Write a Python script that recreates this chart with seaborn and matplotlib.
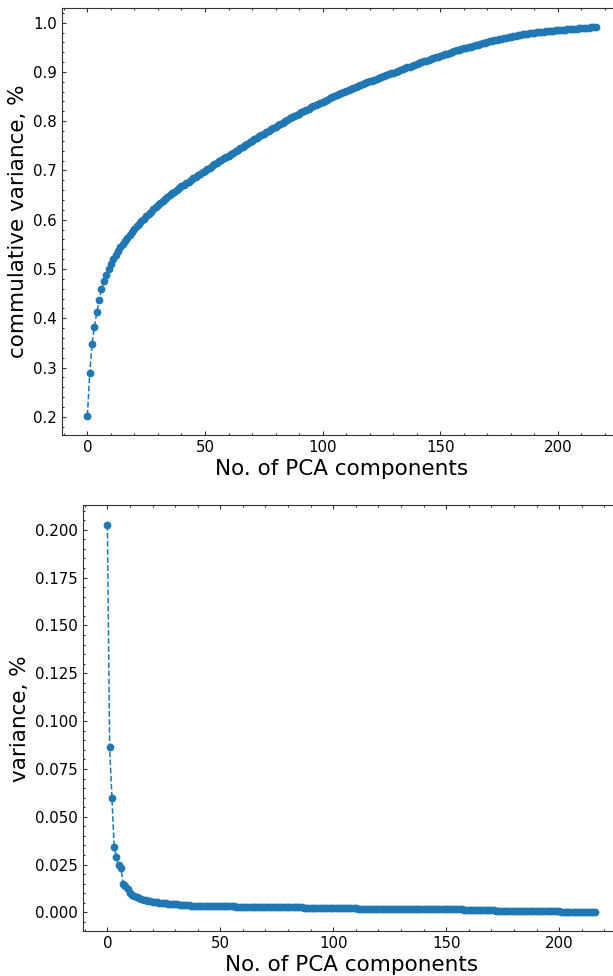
import numpy as np
import pandas as pd
import seaborn as sns
import matplotlib

matplotlib.use("agg")
import matplotlib.pyplot as plt
from matplotlib.ticker import MultipleLocator, FormatStrFormatter

# explained variance ratio per PCA component
variance = [
    0.2026, 0.0863, 0.0596, 0.0342, 0.0292, 0.0246, 0.0232, 0.0150, 0.0136, 0.0124,
    0.0100, 0.0092, 0.0085, 0.0079, 0.0074, 0.0070, 0.0066, 0.0063, 0.0061, 0.0059,
    0.0057, 0.0055, 0.0053, 0.0051, 0.0050, 0.0049, 0.0047, 0.0046, 0.0045, 0.0044,
    0.0043, 0.0042, 0.0041, 0.0040, 0.0039, 0.0038, 0.0037, 0.0036, 0.0036, 0.0035,
    0.0035, 0.0034, 0.0034, 0.0033, 0.0033, 0.0032, 0.0032, 0.0032, 0.0031, 0.0031,
    0.0031, 0.0031, 0.0031, 0.0031, 0.0031, 0.0031, 0.0031, 0.0030, 0.0030, 0.0030,
    0.0030, 0.0030, 0.0030, 0.0030, 0.0030, 0.0030, 0.0030, 0.0030, 0.0030, 0.0030,
    0.0030, 0.0030, 0.0030, 0.0028, 0.0028, 0.0028, 0.0028, 0.0028, 0.0028, 0.0028,
    0.0028, 0.0028, 0.0028, 0.0028, 0.0028, 0.0028, 0.0028, 0.0025, 0.0025, 0.0025,
    0.0025, 0.0025, 0.0025, 0.0025, 0.0025, 0.0025, 0.0025, 0.0025, 0.0025, 0.0021,
    0.0021, 0.0021, 0.0021, 0.0021, 0.0021, 0.0021, 0.0021, 0.0021, 0.0021, 0.0021,
    0.0021, 0.0020, 0.0020, 0.0020, 0.0020, 0.0020, 0.0020, 0.0020, 0.0020, 0.0020,
    0.0020, 0.0018, 0.0018, 0.0018, 0.0018, 0.0018, 0.0018, 0.0018, 0.0018, 0.0018,
    0.0018, 0.0018, 0.0018, 0.0018, 0.0017, 0.0017, 0.0017, 0.0017, 0.0017, 0.0017,
    0.0017, 0.0017, 0.0017, 0.0017, 0.0017, 0.0017, 0.0016, 0.0016, 0.0016, 0.0016,
    0.0016, 0.0016, 0.0016, 0.0016, 0.0016, 0.0016, 0.0016, 0.0016, 0.0013, 0.0013,
    0.0013, 0.0013, 0.0013, 0.0013, 0.0013, 0.0013, 0.0013, 0.0013, 0.0013, 0.0013,
    0.0013, 0.0013, 0.0010, 0.0010, 0.0010, 0.0010, 0.0010, 0.0010, 0.0010, 0.0010,
    0.0010, 0.0010, 0.0010, 0.0010, 0.0010, 0.0010, 0.0007, 0.0007, 0.0007, 0.0007,
    0.0007, 0.0007, 0.0007, 0.0005, 0.0005, 0.0005, 0.0005, 0.0005, 0.0005, 0.0005,
    0.0005, 0.0004, 0.0004, 0.0004, 0.0004, 0.0004, 0.0004, 0.0004, 0.0004, 0.0004,
    0.0004, 0.0004, 0.0004, 0.0004, 0.0004, 0.0004, 0.0004,
]

# cumulative explained variance
cum_variance = [
    0.2026, 0.2889, 0.3485, 0.3827, 0.4119, 0.4365, 0.4597, 0.4747, 0.4883, 0.5007,
    0.5107, 0.5199, 0.5284, 0.5363, 0.5437, 0.5507, 0.5573, 0.5636, 0.5697, 0.5756,
    0.5813, 0.5868, 0.5921, 0.5972, 0.6022, 0.6071, 0.6118, 0.6164, 0.6209, 0.6253,
    0.6296, 0.6338, 0.6379, 0.6419, 0.6458, 0.6496, 0.6533, 0.6569, 0.6605, 0.6640,
    0.6675, 0.6709, 0.6743, 0.6776, 0.6809, 0.6841, 0.6873, 0.6905, 0.6936, 0.6967,
    0.6998, 0.7029, 0.7060, 0.7091, 0.7122, 0.7153, 0.7184, 0.7214, 0.7244, 0.7274,
    0.7304, 0.7334, 0.7364, 0.7394, 0.7424, 0.7454, 0.7484, 0.7514, 0.7544, 0.7574,
    0.7604, 0.7634, 0.7664, 0.7692, 0.7720, 0.7748, 0.7776, 0.7804, 0.7832, 0.7860,
    0.7888, 0.7916, 0.7944, 0.7972, 0.8000, 0.8028, 0.8056, 0.8081, 0.8106, 0.8131,
    0.8156, 0.8181, 0.8206, 0.8231, 0.8256, 0.8281, 0.8306, 0.8331, 0.8356, 0.8377,
    0.8398, 0.8419, 0.8440, 0.8461, 0.8482, 0.8503, 0.8524, 0.8545, 0.8566, 0.8587,
    0.8608, 0.8628, 0.8648, 0.8668, 0.8688, 0.8708, 0.8728, 0.8748, 0.8768, 0.8788,
    0.8808, 0.8826, 0.8844, 0.8862, 0.8880, 0.8898, 0.8916, 0.8934, 0.8952, 0.8970,
    0.8988, 0.9006, 0.9024, 0.9042, 0.9059, 0.9076, 0.9093, 0.9110, 0.9127, 0.9144,
    0.9161, 0.9178, 0.9195, 0.9212, 0.9229, 0.9246, 0.9262, 0.9278, 0.9294, 0.9310,
    0.9326, 0.9342, 0.9358, 0.9374, 0.9390, 0.9406, 0.9422, 0.9438, 0.9451, 0.9464,
    0.9477, 0.9490, 0.9503, 0.9516, 0.9529, 0.9542, 0.9555, 0.9568, 0.9581, 0.9594,
    0.9607, 0.9620, 0.9630, 0.9640, 0.9650, 0.9660, 0.9670, 0.9680, 0.9690, 0.9700,
    0.9710, 0.9720, 0.9730, 0.9740, 0.9750, 0.9760, 0.9767, 0.9774, 0.9781, 0.9788,
    0.9795, 0.9802, 0.9809, 0.9814, 0.9819, 0.9824, 0.9829, 0.9834, 0.9839, 0.9844,
    0.9849, 0.9853, 0.9857, 0.9861, 0.9865, 0.9869, 0.9873, 0.9877, 0.9881, 0.9885,
    0.9889, 0.9893, 0.9897, 0.9901, 0.9905, 0.9909, 0.9913,
]

components = np.arange(len(variance))

x_label = "No. of PCA components"
y_label_top = "commulative variance, %"
y_label_bottom = "variance, %"

df = pd.DataFrame(
    {"component": components, "variance": variance, "cum_variance": cum_variance}
)

sns.set_style("ticks")
plt.rcParams["font.family"] = ["DejaVu Sans"]
plt.rcParams["text.color"] = "black"
plt.rcParams["axes.labelcolor"] = "black"
plt.rcParams["xtick.color"] = "black"
plt.rcParams["ytick.color"] = "black"

fig = plt.figure(figsize=(6.13, 9.76), dpi=100)
# the right edge of both axes runs past the figure, as in the cropped original
ax_top = fig.add_axes([0.1011, 0.5543, 0.9119, 0.4380])
ax_bot = fig.add_axes([0.1354, 0.0461, 0.8754, 0.4360])

line_kw = dict(
    color="#1f77b4", marker="o", linestyle="--", linewidth=1.1,
    markersize=5.6, markeredgewidth=0,
)

sns.lineplot(data=df, x="component", y="cum_variance", ax=ax_top, **line_kw)
sns.lineplot(data=df, x="component", y="variance", ax=ax_bot, **line_kw)

ax_top.set_ylabel(y_label_top, fontsize=15.5)
ax_bot.set_ylabel(y_label_bottom, fontsize=15.5)

for ax in (ax_top, ax_bot):
    ax.set_xlabel(x_label, fontsize=15.5, labelpad=3)
    ax.xaxis.set_major_locator(MultipleLocator(50))
    ax.xaxis.set_minor_locator(MultipleLocator(10))
    ax.tick_params(which="both", direction="in", top=True, right=True,
                   labelsize=10.8, width=0.8, color="#333333",
                   labelcolor="black")
    ax.tick_params(which="major", length=3)
    ax.tick_params(which="minor", length=1.6)
    for sp in ax.spines.values():
        sp.set_linewidth(0.8)
        sp.set_color("#333333")

ax_top.yaxis.set_major_locator(MultipleLocator(0.1))
ax_top.yaxis.set_minor_locator(MultipleLocator(0.02))
ax_bot.yaxis.set_major_locator(MultipleLocator(0.025))
ax_bot.yaxis.set_minor_locator(MultipleLocator(0.005))
ax_bot.yaxis.set_major_formatter(FormatStrFormatter("%.3f"))
ax_top.yaxis.set_major_formatter(FormatStrFormatter("%.1f"))

fig.savefig("out.png", dpi=100)
